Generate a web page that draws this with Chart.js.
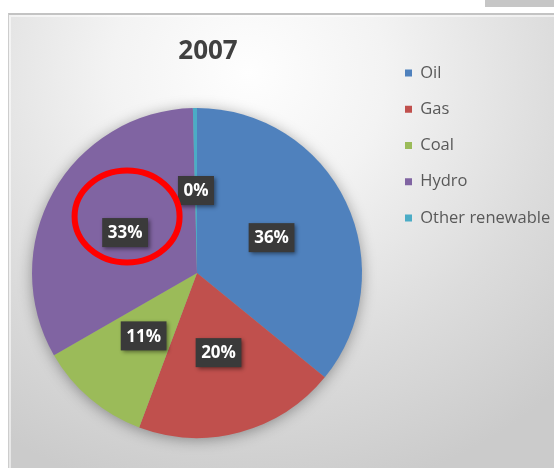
<!DOCTYPE html>
<html>
<head>
<meta charset="utf-8">
<script src="https://cdn.jsdelivr.net/npm/chart.js@4.4.1/dist/chart.umd.min.js"></script>
<style>
  html, body { margin: 0; padding: 0; width: 554px; height: 468px; overflow: hidden; background: #ffffff; }
  #tab { position: absolute; left: 485px; top: 0; width: 69px; height: 7px; background: #c6c6c6; }
  #frame {
    position: absolute; left: 8px; top: 13px; width: 570px; height: 480px;
    border-top: 2px solid #c3c3c3; border-left: 1px solid #cdcdcd;
    box-shadow: inset 2px 2px 0 rgba(255,255,255,0.55);
    background: radial-gradient(ellipse 80% 90% at 42% 12%, #fefefe 0%, #f3f3f3 30%, #dcdcdc 68%, #cbcbcb 100%);
  }
  #wrap { position: absolute; left: 0; top: 0; width: 560px; height: 502px; }
</style>
</head>
<body>
<div id="tab"></div>
<div id="frame"></div>
<div id="wrap"><canvas id="energyPie"></canvas></div>
<script>
// Energy mix, 2007 (share of total, %)
const categories = ['Oil', 'Gas', 'Coal', 'Hydro', 'Other renewable'];
const shares2007 = [35.9, 19.8, 11.0, 32.9, 0.4];
const sliceColors = ['#4f81bd', '#c0504d', '#9bbb59', '#8064a2', '#4bacc6'];
const chartTitle = '2007';
const highlightedCategory = 'Hydro';

const FONT = "'Open Sans', 'DejaVu Sans', sans-serif";

// chart heading, centred over the plot frame
const frameTitle = {
  id: 'frameTitle',
  afterDraw(chart) {
    const ctx = chart.ctx;
    ctx.save();
    ctx.font = 'bold 26px ' + FONT;
    ctx.fillStyle = '#404040';
    ctx.textAlign = 'center';
    ctx.textBaseline = 'middle';
    ctx.fillText(chartTitle, 208, 51.5);
    ctx.restore();
  }
};

// soft drop shadow under the whole pie
const pieShadow = {
  id: 'pieShadow',
  beforeDatasetsDraw(chart) {
    const arc = chart.getDatasetMeta(0).data[0];
    if (!arc) return;
    const ctx = chart.ctx;
    ctx.save();
    ctx.shadowColor = 'rgba(0,0,0,0.4)';
    ctx.shadowBlur = 15;
    ctx.shadowOffsetY = 2;
    ctx.fillStyle = '#9a9a9a';
    ctx.beginPath();
    ctx.arc(arc.x, arc.y, arc.outerRadius - 1, 0, Math.PI * 2);
    ctx.fill();
    ctx.restore();
  }
};

// percentage labels in dark boxes at the middle of each slice
const percentLabels = {
  id: 'percentLabels',
  afterDatasetsDraw(chart) {
    const ctx = chart.ctx;
    const values = chart.data.datasets[0].data;
    const total = values.reduce((a, b) => a + b, 0);
    chart.getDatasetMeta(0).data.forEach((arc, i) => {
      const p = arc.tooltipPosition();
      const text = Math.round(values[i] / total * 100) + '%';
      ctx.save();
      ctx.font = 'bold 17px ' + FONT;
      const w = ctx.measureText(text).width + 11;
      const h = 29;
      ctx.shadowColor = 'rgba(0,0,0,0.45)';
      ctx.shadowBlur = 4;
      ctx.shadowOffsetX = 2;
      ctx.shadowOffsetY = 2;
      ctx.fillStyle = '#3a3a3a';
      ctx.fillRect(p.x - w / 2, p.y - h / 2, w, h);
      ctx.shadowColor = 'transparent';
      ctx.fillStyle = '#ffffff';
      ctx.textAlign = 'center';
      ctx.textBaseline = 'middle';
      ctx.fillText(text, p.x, p.y + 1);
      ctx.restore();
    });
  }
};

// red ring marking the highlighted slice label
const calloutRing = {
  id: 'calloutRing',
  afterDraw(chart) {
    const idx = categories.indexOf(highlightedCategory);
    const arc = chart.getDatasetMeta(0).data[idx];
    if (!arc) return;
    const p = arc.tooltipPosition();
    const ctx = chart.ctx;
    ctx.save();
    ctx.strokeStyle = '#ff0000';
    ctx.lineWidth = 6;
    ctx.beginPath();
    ctx.ellipse(p.x + 2, p.y - 16, 52.5, 46, 0, 0, Math.PI * 2);
    ctx.stroke();
    ctx.restore();
  }
};

new Chart(document.getElementById('energyPie'), {
  type: 'pie',
  data: {
    labels: categories,
    datasets: [{
      data: shares2007,
      backgroundColor: sliceColors,
      borderWidth: 0,
      hoverOffset: 0,
      radius: 165
    }]
  },
  options: {
    responsive: true,
    maintainAspectRatio: false,
    animation: false,
    events: [],
    layout: { padding: { left: 8.75, top: 45, right: 4.75, bottom: 1 } },
    plugins: {
      tooltip: { enabled: false },
      title: { display: false },
      legend: {
        position: 'right',
        align: 'start',
        fullSize: true,
        maxWidth: 170,
        labels: {
          boxWidth: 7,
          boxHeight: 7,
          padding: 19.75,
          color: '#595959',
          font: { family: FONT, size: 16.5 }
        }
      }
    }
  },
  plugins: [pieShadow, percentLabels, calloutRing, frameTitle]
});
</script>
</body>
</html>
